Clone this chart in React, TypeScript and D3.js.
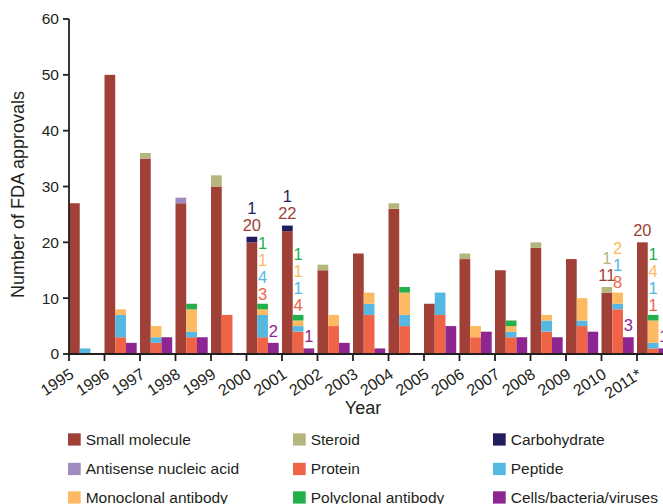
import React from 'react';
import * as d3 from 'd3';

// FDA approvals by type, 1995 - 2011*
const years = ['1995', '1996', '1997', '1998', '1999', '2000', '2001', '2002', '2003',
  '2004', '2005', '2006', '2007', '2008', '2009', '2010', '2011*'];

const smallMolecule = [27, 50, 35, 27, 30, 20, 22, 15, 18, 26, 9, 17, 15, 19, 17, 11, 20];
const steroid = [0, 0, 1, 0, 2, 0, 0, 1, 0, 1, 0, 1, 0, 1, 0, 1, 0];
const carbohydrate = [0, 0, 0, 0, 0, 1, 1, 0, 0, 0, 0, 0, 0, 0, 0, 0, 0];
const antisense = [0, 0, 0, 1, 0, 0, 0, 0, 0, 0, 0, 0, 0, 0, 0, 0, 0];
const protein = [0, 3, 2, 3, 7, 3, 4, 5, 7, 5, 7, 3, 3, 4, 5, 8, 1];
const peptide = [1, 4, 1, 1, 0, 4, 1, 0, 2, 2, 4, 0, 1, 2, 1, 1, 1];
const monoclonal = [0, 1, 2, 4, 0, 1, 1, 2, 2, 4, 0, 2, 1, 1, 4, 2, 4];
const polyclonal = [0, 0, 0, 1, 0, 1, 1, 0, 0, 1, 0, 0, 1, 0, 0, 0, 1];
const cells = [0, 2, 3, 3, 0, 2, 1, 2, 1, 0, 5, 4, 3, 3, 4, 3, 1];

const yTicks = [0, 10, 20, 30, 40, 50, 60];
const labelledYears = ['2000', '2001', '2010', '2011*'];

const series = {
  smallMolecule: { name: 'Small molecule', color: '#a04037', values: smallMolecule },
  steroid: { name: 'Steroid', color: '#b5b67e', values: steroid },
  carbohydrate: { name: 'Carbohydrate', color: '#221e5e', values: carbohydrate },
  antisense: { name: 'Antisense nucleic acid', color: '#a08ac2', values: antisense },
  protein: { name: 'Protein', color: '#ef6447', values: protein },
  peptide: { name: 'Peptide', color: '#55b8e0', values: peptide },
  monoclonal: { name: 'Monoclonal antibody', color: '#fdba63', values: monoclonal },
  polyclonal: { name: 'Polyclonal antibody', color: '#23b04b', values: polyclonal },
  cells: { name: 'Cells/bacteria/viruses', color: '#8d2690', values: cells },
};

const columns = [
  { id: 'sm', keys: ['smallMolecule', 'steroid', 'carbohydrate', 'antisense'] },
  { id: 'bio', keys: ['protein', 'peptide', 'monoclonal', 'polyclonal'] },
  { id: 'cells', keys: ['cells'] },
];

const legendRows = [
  ['smallMolecule', 'steroid', 'carbohydrate'],
  ['antisense', 'protein', 'peptide'],
  ['monoclonal', 'polyclonal', 'cells'],
];

const font = '"Liberation Sans", Arial, Helvetica, sans-serif';
const ink = '#231f20';

export default function App() {
  const width = 663;
  const height = 504;

  const x = d3.scaleBand().domain(years).range([69, 69 + 35.5 * years.length]);
  const sub = d3.scaleBand().domain(columns.map(c => c.id)).range([0, 32.2]);
  const y = d3.scaleLinear().domain([0, 60]).range([354, 19]);

  const rows = years.map((yr, i) => {
    const r: any = { year: yr };
    Object.keys(series).forEach(k => { r[k] = series[k].values[i]; });
    return r;
  });

  const rects: any[] = [];
  const labels: any[] = [];
  columns.forEach(col => {
    const stacked = d3.stack().keys(col.keys)(rows);
    stacked.forEach(layer => {
      layer.forEach((d: any, i) => {
        if (d[1] - d[0] <= 0) return;
        rects.push({
          key: col.id + layer.key + i,
          x: x(years[i]) + sub(col.id),
          y: y(d[1]),
          h: y(d[0]) - y(d[1]),
          color: series[layer.key].color,
        });
      });
    });
    // value labels above the stacks for some years
    labelledYears.forEach(yr => {
      const i = years.indexOf(yr);
      const total = col.keys.reduce((s, k) => s + series[k].values[i], 0);
      const top = y(total);
      const cx = x(yr) + sub(col.id) + sub.bandwidth() / 2;
      let n = 0;
      col.keys.forEach(k => {
        const v = series[k].values[i];
        if (!v) return;
        const off = col.id === 'bio' ? 10 : 12;
        labels.push({ key: yr + k, x: cx, y: top - off - n * 17, text: String(v), color: series[k].color });
        n++;
      });
    });
  });

  return (
    <svg width={width} height={height} style={{ position: 'absolute', left: 0, top: 0 }} fontFamily={font}>
      <g>
        {rects.map(r => (
          <rect key={r.key} x={r.x} y={r.y} width={sub.bandwidth()} height={r.h} fill={r.color} />
        ))}
      </g>
      <g>
        {labels.map(l => (
          <text key={l.key} x={l.x} y={l.y} dy="0.35em" textAnchor="middle" fontSize={16.5} fill={l.color}>{l.text}</text>
        ))}
      </g>
      {/* y axis */}
      <g stroke={ink} strokeWidth={1.8}>
        <line x1={69} x2={69} y1={y(60)} y2={y(0)} />
        {yTicks.map(t => <line key={t} x1={63} x2={69} y1={y(t)} y2={y(t)} />)}
      </g>
      {yTicks.map(t => (
        <text key={t} x={59} y={y(t)} dy="0.35em" textAnchor="end" fontSize={15.5} fill={ink}>{t}</text>
      ))}
      <text transform={`translate(24,${(y(0) + y(60)) / 2 + 8}) rotate(-90)`} textAnchor="middle" fontSize={18} fill={ink}>
        Number of FDA approvals
      </text>
      {/* x axis */}
      <g stroke={ink} strokeWidth={1.8}>
        <line x1={68} x2={width} y1={354} y2={354} />
        {years.map(yr => <line key={yr} x1={x(yr)} x2={x(yr)} y1={354} y2={361} />)}
      </g>
      {years.map(yr => (
        <text key={yr} transform={`translate(${x(yr) + 6},${377}) rotate(-33)`} textAnchor="end" fontSize={16} fill={ink}>{yr}</text>
      ))}
      <text x={363} y={414} textAnchor="middle" fontSize={18} fill={ink}>Year</text>
      {/* legend */}
      {legendRows.map((row, ri) => row.map((k, ci) => {
        const lx = [68, 293, 493][ci];
        const ly = [439.5, 469, 497.5][ri];
        return (
          <g key={k}>
            <rect x={lx} y={ly - 6.2} width={12.7} height={12.3} fill={series[k].color} />
            <text x={lx + 17.7} y={ly} dy="0.35em" fontSize={15.5} fill={ink}>{series[k].name}</text>
          </g>
        );
      }))}
    </svg>
  );
}
